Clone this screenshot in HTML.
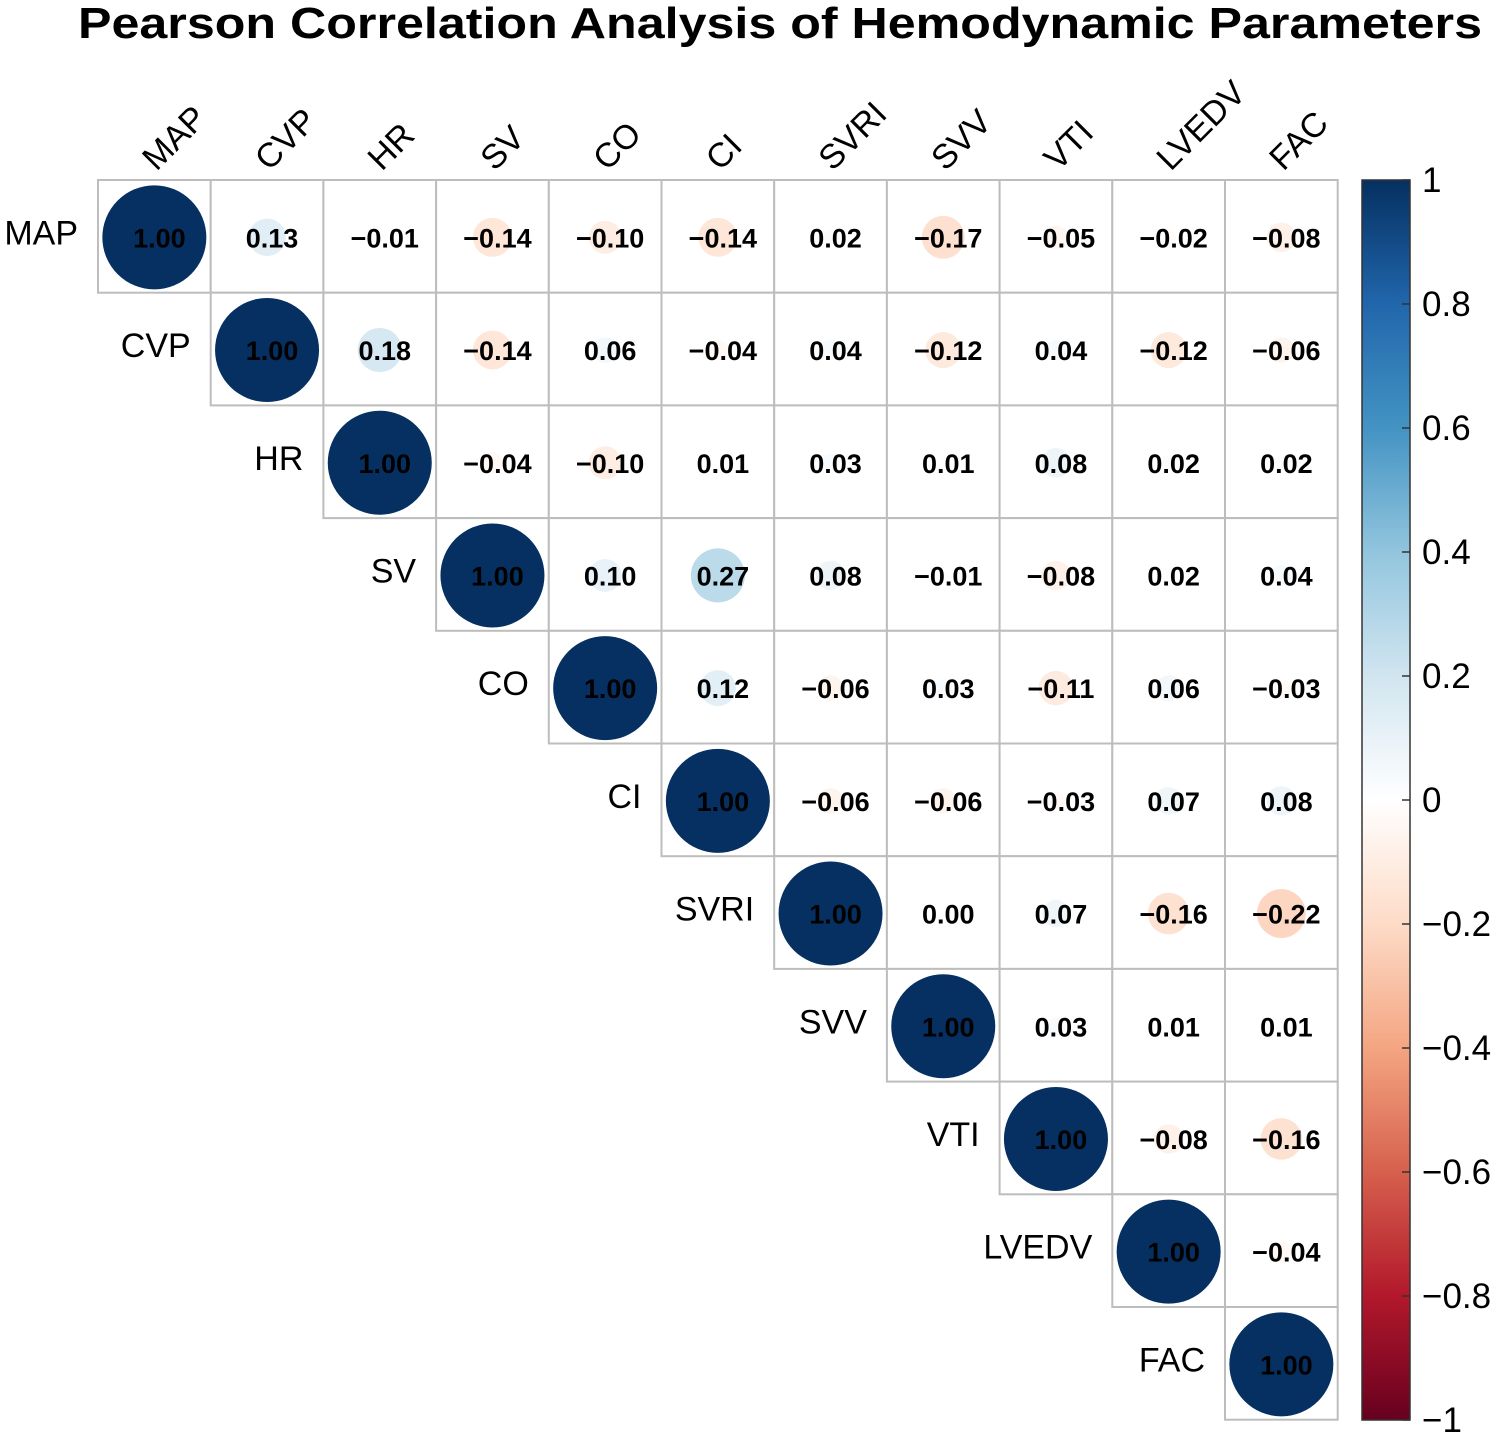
<!DOCTYPE html>
<html><head><meta charset="utf-8"><style>
body{margin:0;background:#fff;}
svg{display:block;font-family:"Liberation Sans",Arial,sans-serif;}
</style></head><body>
<svg id="chart" width="1499" height="1437" viewBox="0 0 1499 1437" xmlns="http://www.w3.org/2000/svg">
<text x="78" y="38" font-size="44" font-weight="bold" textLength="1404" lengthAdjust="spacingAndGlyphs">Pearson Correlation Analysis of Hemodynamic Parameters</text>
<defs>
<linearGradient id="cb" x1="0" y1="1" x2="0" y2="0">
<stop offset="0" stop-color="#67001F"/><stop offset="0.1" stop-color="#B2182B"/><stop offset="0.2" stop-color="#D6604D"/><stop offset="0.3" stop-color="#F4A582"/><stop offset="0.4" stop-color="#FDDBC7"/><stop offset="0.5" stop-color="#FFFFFF"/><stop offset="0.6" stop-color="#D1E5F0"/><stop offset="0.7" stop-color="#92C5DE"/><stop offset="0.8" stop-color="#4393C3"/><stop offset="0.9" stop-color="#2166AC"/><stop offset="1" stop-color="#053061"/>
</linearGradient>
</defs>
<g id="grid"></g>
<g id="marks"></g>
<g id="labels"></g>
<g id="colorbar"></g>
</svg>
<script>
const variables = ["MAP","CVP","HR","SV","CO","CI","SVRI","SVV","VTI","LVEDV","FAC"];
const corrRows = [
 [1.00,0.13,-0.01,-0.14,-0.10,-0.14,0.02,-0.17,-0.05,-0.02,-0.08],
 [1.00,0.18,-0.14,0.06,-0.04,0.04,-0.12,0.04,-0.12,-0.06],
 [1.00,-0.04,-0.10,0.01,0.03,0.01,0.08,0.02,0.02],
 [1.00,0.10,0.27,0.08,-0.01,-0.08,0.02,0.04],
 [1.00,0.12,-0.06,0.03,-0.11,0.06,-0.03],
 [1.00,-0.06,-0.06,-0.03,0.07,0.08],
 [1.00,0.00,0.07,-0.16,-0.22],
 [1.00,0.03,0.01,0.01],
 [1.00,-0.08,-0.16],
 [1.00,-0.04],
 [1.00]
];
const colorbarTicks = [1,0.8,0.6,0.4,0.2,0,-0.2,-0.4,-0.6,-0.8,-1];

const NS="http://www.w3.org/2000/svg";
const X0=98, Y0=180, CELL=112.7, RMAX=52;
const cb={x:1362,w:48,top:180,bot:1420};
function xPos(j){return X0+j*CELL;}
function yPos(i){return Y0+i*CELL;}
function cbY(v){return cb.top+(1-v)/2*(cb.bot-cb.top);}
const pal=["#67001F","#B2182B","#D6604D","#F4A582","#FDDBC7","#FFFFFF","#D1E5F0","#92C5DE","#4393C3","#2166AC","#053061"];
function hex(c){return [1,3,5].map(k=>parseInt(c.substr(k,2),16));}
function color(v){
  const t=(v+1)/2*10; const i=Math.min(9,Math.floor(t)); const f=t-i;
  const a=hex(pal[i]), b=hex(pal[i+1]);
  return "rgb("+a.map((x,k)=>Math.round(x+(b[k]-x)*f)).join(",")+")";
}
function mk(tag,attrs,parent){const e=document.createElementNS(NS,tag);for(const k in attrs)e.setAttribute(k,attrs[k]);parent.appendChild(e);return e;}
const grid=document.getElementById('grid'), marks=document.getElementById('marks'), labels=document.getElementById('labels'), cbar=document.getElementById('colorbar');

corrRows.forEach((row,i)=>{
  row.forEach((v,k)=>{
    const j=i+k;
    const cell=mk('rect',{x:xPos(j),y:yPos(i),width:CELL,height:CELL,fill:'#fff',stroke:'#bdbdbd','stroke-width':2},grid);
    
    
    const cx=xPos(j)+CELL/2, cy=yPos(i)+CELL/2+1;
    const r=Math.sqrt(Math.abs(v))*RMAX;
    if(r>0){
      const c=mk('circle',{cx:cx,cy:cy,r:r,fill:color(v)},marks);
      
      
    }
    const t=mk('text',{x:cx+5,y:cy+10,'text-anchor':'middle','font-size':27,'font-weight':'bold',fill:'#000'},marks);
    t.textContent=(v<0?'\u2212':'')+Math.abs(v).toFixed(2);
    
    
  });
});

variables.forEach((n,i)=>{
  const rl=mk('text',{x:xPos(i)-20,y:yPos(i)+CELL/2+8,'text-anchor':'end','font-size':34},labels);
  rl.textContent=n;
  
  
  const sx=xPos(i)+CELL/2+2, sy=172;
  const cl=mk('text',{x:sx,y:sy,'font-size':34,transform:'rotate(-45 '+sx+' '+sy+')'},labels);
  cl.textContent=n;
  
  
});

const bar=mk('rect',{x:cb.x,y:cb.top,width:cb.w,height:cb.bot-cb.top,fill:'url(#cb)',stroke:'#333','stroke-width':1.5},cbar);


colorbarTicks.forEach(v=>{
  const y=cbY(v);
  mk('line',{x1:cb.x+cb.w-8,x2:cb.x+cb.w,y1:y,y2:y,stroke:'#333','stroke-width':1.5},cbar);
  const t=mk('text',{x:cb.x+cb.w+12,y:y+12,'font-size':35},cbar);
  t.textContent=(v<0?'\u2212':'')+(v===1||v===-1||v===0?Math.abs(v):Math.abs(v).toFixed(1));
  
  
});
</script>
</body></html>
